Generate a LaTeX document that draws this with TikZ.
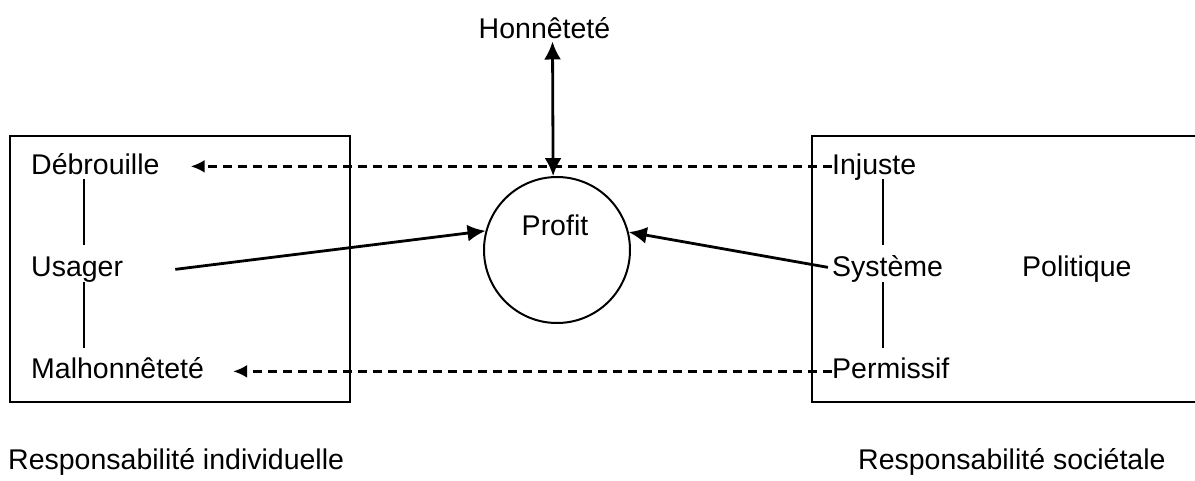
\documentclass[tikz,border=0pt]{standalone}
\usepackage{fontspec}
\setmainfont{Liberation Sans}
\usetikzlibrary{arrows.meta,calc}
\begin{document}
\begin{tikzpicture}[x=1pt,y=-1pt,
  lbl/.style={inner sep=0pt,font=\fontsize{28.5}{32}\selectfont},
  boxline/.style={line width=2.2pt},
  linkline/.style={line width=2pt},
  bigtip/.tip={Latex[length=18pt,width=17pt]},
  smalltip/.tip={Latex[length=14pt,width=13pt]},
  solidarrow/.style={line width=2.8pt,-bigtip},
  dasharrow/.style={line width=2.6pt,dash pattern=on 9pt off 6pt,-smalltip}]
\useasboundingbox (0,0) rectangle (1195,480);
% boxes
\draw[boxline] (10,136) rectangle (350,402);
\draw[boxline] (812,136) rectangle (1210,402);
% left texts
\node[lbl,anchor=base west] (deb) at (31,174) {Débrouille};
\node[lbl,anchor=base west] (usa) at (31,276) {Usager};
\node[lbl,anchor=base west] (mal) at (31,378) {Malhonnêteté};
% right texts
\node[lbl,anchor=base west] (inj) at (832,174) {Injuste};
\node[lbl,anchor=base west] (sys) at (832,276) {Système};
\node[lbl,anchor=base west] (per) at (832,378) {Permissif};
\node[lbl,anchor=base west] (pol) at (1022,276) {Politique};
% top and circle
\node[lbl,anchor=base] (hon) at (544.5,38) {Honnêteté};
\node[draw,circle,line width=2pt,minimum size=146pt,inner sep=0pt] (prof) at (557,250) {};
\node[lbl,anchor=base] (proftxt) at (555,235) {Profit};
% bottom labels
\node[lbl,anchor=base west] (ri) at (8,469) {Responsabilité individuelle};
\node[lbl,anchor=base west] (rs) at (858,469) {Responsabilité sociétale};
% vertical links
\draw[linkline] ($(deb.base west)+(53,5)$) -- ($(usa.base west)+(53,-31)$);
\draw[linkline] ($(usa.base west)+(53,6)$) -- ($(mal.base west)+(53,-30)$);
\draw[linkline] ($(inj.base west)+(51,5)$) -- ($(sys.base west)+(51,-31)$);
\draw[linkline] ($(sys.base west)+(51,6)$) -- ($(per.base west)+(51,-30)$);
% dashed arrows
\draw[dasharrow] ($(inj.mid west)+(0,-5)$) -- ($(deb.mid east)+(31,-5)$);
\draw[dasharrow] ($(per.mid west)+(0,-4)$) -- ($(mal.mid east)+(29,-4)$);
% solid arrows
\draw[solidarrow] ($(usa.mid east)+(52,-4)$) -- (prof.165);
\draw[solidarrow] ($(sys.mid west)+(-4,-6)$) -- (prof.14);
\draw[line width=2.8pt,bigtip-bigtip] ($(hon.south)+(8,3)$) -- (prof.93);
\end{tikzpicture}
\end{document}
